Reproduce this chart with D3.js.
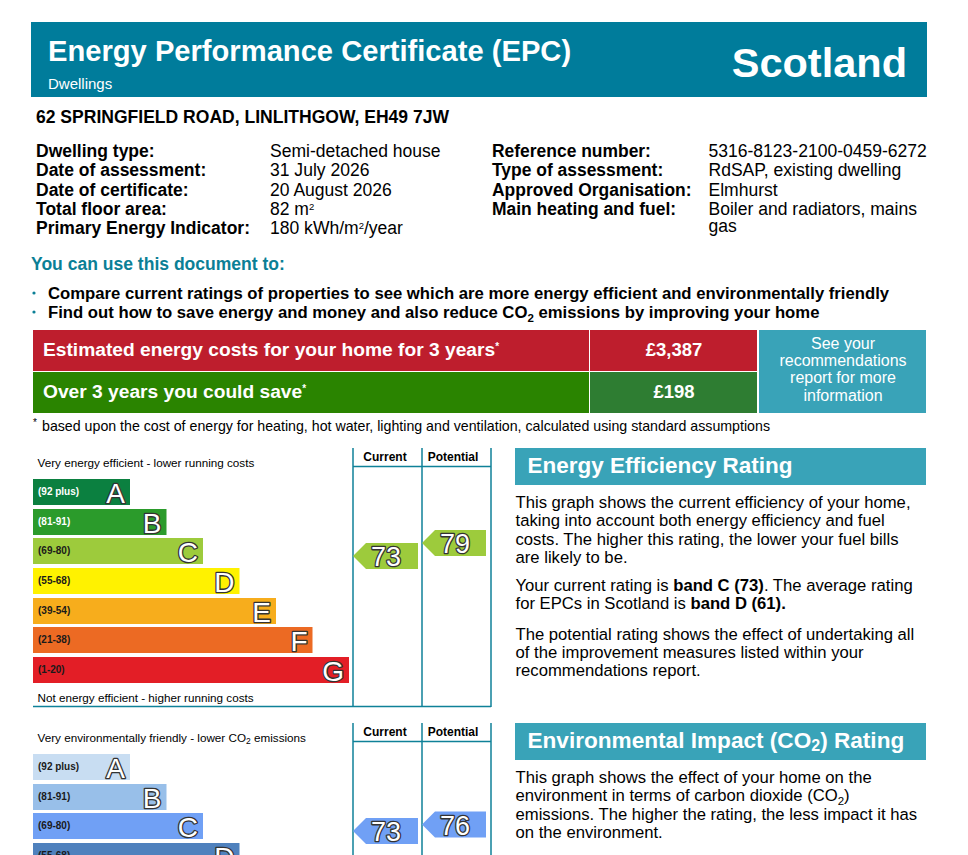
<!DOCTYPE html>
<html><head><meta charset="utf-8">
<script src="https://cdn.jsdelivr.net/npm/d3@7"></script>
<style>
html,body{margin:0;padding:0;background:#fff;overflow:hidden}
svg{display:block}
text{font-family:"Liberation Sans",Arial,sans-serif;fill:#000}
</style></head><body><div id="c"></div>
<script>
const address = "62 SPRINGFIELD ROAD, LINLITHGOW, EH49 7JW";
const detailLabelsLeft = ["Dwelling type:","Date of assessment:","Date of certificate:","Total floor area:","Primary Energy Indicator:"];
const detailValuesLeft = ["Semi-detached house","31 July 2026","20 August 2026"];
const detailLabelsRight = ["Reference number:","Type of assessment:","Approved Organisation:","Main heating and fuel:"];
const detailValuesRight = ["5316-8123-2100-0459-6272","RdSAP, existing dwelling","Elmhurst","Boiler and radiators, mains"];
const bandLetters = ["A","B","C","D","E","F","G"];
const bandRanges = ["(92 plus)","(81-91)","(69-80)","(55-68)","(39-54)","(21-38)","(1-20)"];
const energyColors = ["#0b8040","#2b9b2b","#9dcb3c","#fff200","#f7ad1c","#ec6a23","#e31e26"];
const energyLabelColors = ["#fff","#fff","#1a1a1a","#1a1a1a","#1a1a1a","#1a1a1a","#1a1a1a"];
const co2Colors = ["#c8ddf2","#98bfe9","#70a0f5","#4f81bd"];
const energyCurrent = 73, energyPotential = 79;
const co2Current = 73, co2Potential = 76;
const costValue = "£3,387", saveValue = "£198";

const svg = d3.select("#c").append("svg").attr("width",968).attr("height",855);
const T = (x,y,s,size,opts={}) => svg.append("text").attr("x",x).attr("y",y).attr("font-size",size)
  .attr("font-weight",opts.b?"bold":null).attr("text-anchor",opts.a||null).style("fill",opts.c||"#000").text(s);
const R = (x,y,w,h,c) => svg.append("rect").attr("x",x).attr("y",y).attr("width",w).attr("height",h).attr("fill",c);
const SUP = (el,s,size,up,after) => { el.append("tspan").attr("font-size",size).attr("dy",-up).text(s);
  if(after) el.append("tspan").attr("dy",up).text(after); };

const TEAL="#007c9b", MID="#39a3b8", LINE="#0f8198";
// header
R(31,22,896,75,TEAL);
T(48,61,"Energy Performance Certificate (EPC)",29.15,{b:1,c:"#fff"});
T(48,89,"Dwellings",15,{c:"#fff"});
T(907,77,"Scotland",41.5,{b:1,c:"#fff",a:"end"});
T(36,123,address,17.55,{b:1});
// details
const rowY = d3.scalePoint().domain(d3.range(5)).range([157,234]);
detailLabelsLeft.forEach((d,i)=>T(36,rowY(i),d,17.5,{b:1}));
detailValuesLeft.forEach((d,i)=>T(270,rowY(i),d,17.55));
SUP(T(270,rowY(3),"82 m",17.55),"2",9.5,5);
SUP(T(270,rowY(4),"180 kWh/m",17.55),"2",9.5,5,"/year");
detailLabelsRight.forEach((d,i)=>T(492,rowY(i),d,17.45,{b:1}));
detailValuesRight.forEach((d,i)=>T(708.5,rowY(i),d,17.55));
T(708.5,232,"gas",17.55);
T(31,270,"You can use this document to:",17.55,{b:1,c:"#0b7f96"});
[293,312].forEach(y=>svg.append("circle").attr("cx",34).attr("cy",y).attr("r",1.6).attr("fill","#0b7f96"));
T(48,299,"Compare current ratings of properties to see which are more energy efficient and environmentally friendly",16.7,{b:1});
const t=T(48,317.5,"Find out how to save energy and money and also reduce CO",16.7,{b:1});
t.append("tspan").attr("font-size",11.5).attr("dy",4).text("2");
t.append("tspan").attr("dy",-4).text(" emissions by improving your home");
// cost boxes
R(33,330,556,41,"#be1e2d");R(590,330,167,41,"#be1e2d");
R(33,372,556,41,"#2a8400");R(590,372,167,41,"#2e7d32");
R(759,330,167,83,MID);
const c1=T(43,356,"Estimated energy costs for your home for 3 years",19.2,{b:1,c:"#fff"});
c1.append("tspan").attr("font-size",10).attr("dy",-6).text("*");
const c2=T(43,398,"Over 3 years you could save",19.2,{b:1,c:"#fff"});
c2.append("tspan").attr("font-size",10).attr("dy",-6).text("*");
T(674,356,costValue,18.5,{b:1,c:"#fff",a:"middle"});
T(674,398,saveValue,18.5,{b:1,c:"#fff",a:"middle"});
["See your","recommendations","report for more","information"].forEach((s,i)=>T(843,349+i*17.2,s,16,{c:"#fff",a:"middle"}));
T(33,426,"*",10);
T(42,431,"based upon the cost of energy for heating, hot water, lighting and ventilation, calculated using standard assumptions",14.2);

// rating charts
const bandX = d3.scaleLinear().domain([0,6]).range([130,349]);
const bandY = d3.scaleLinear().domain([0,6]).range([479,657]);
const ratingY = d3.scaleLinear().domain([79,73]).range([543,556]);

function outlined(g,x,y,s,size,anchor){
  g.append("text").attr("x",x).attr("y",y).attr("text-anchor",anchor).attr("font-size",size)
    .attr("paint-order","stroke").style("fill","#fff").style("stroke","#333").style("stroke-width","2.6px").style("stroke-linejoin","round").text(s);
}
function chart(dy, colors, labelColors, topLabel, bottomLabel, current, potential, arrowColor){
  const g = svg.append("g").attr("transform",`translate(0,${dy})`);
  const n = colors.length;
  const bands = g.selectAll("g.b").data(d3.range(n)).join("g");
  bands.append("rect").attr("x",33).attr("y",i=>Math.round(bandY(i))).attr("width",i=>bandX(i)-33).attr("height",26).attr("fill",i=>colors[i]);
  bands.append("text").attr("x",38).attr("y",i=>Math.round(bandY(i))+16).attr("font-size",10).attr("font-weight","bold").style("fill",i=>labelColors[i]).text(i=>bandRanges[i]);
  bands.each(function(i){ outlined(d3.select(this),bandX(i)-5,Math.round(bandY(i))+23.5,bandLetters[i],28,"end"); });
  g.append("g").html(topLabel);
  if(bottomLabel) g.append("text").attr("x",37.5).attr("y",702).attr("font-size",11.7).text(bottomLabel);
  const lineBottom = bottomLabel ? 707 : 855-dy+5;
  [353,422,491].forEach(x=>g.append("line").attr("x1",x).attr("x2",x).attr("y1",448).attr("y2",lineBottom).attr("stroke",LINE).attr("stroke-width",1.5));
  g.append("line").attr("x1",353).attr("x2",491).attr("y1",466.5).attr("y2",466.5).attr("stroke",LINE).attr("stroke-width",1.5);
  if(bottomLabel) g.append("line").attr("x1",33).attr("x2",491).attr("y1",706.5).attr("y2",706.5).attr("stroke",LINE).attr("stroke-width",1.5);
  g.append("text").attr("x",385).attr("y",461).attr("text-anchor","middle").attr("font-size",12).attr("font-weight","bold").text("Current");
  g.append("text").attr("x",453).attr("y",461).attr("text-anchor","middle").attr("font-size",12).attr("font-weight","bold").text("Potential");
  [[353,65,current],[422,64,potential]].forEach(([x,w,v])=>{
    const cy=ratingY(v);
    g.append("path").attr("d",d3.line()([[x,cy],[x+13,cy-13],[x+w,cy-13],[x+w,cy+13],[x+13,cy+13]])+"Z").attr("fill",arrowColor);
    outlined(g,x+33,cy+10,String(v),27,"middle");
  });
}
chart(0,energyColors,energyLabelColors,
  '<text x="37.5" y="467" font-size="11.7">Very energy efficient - lower running costs</text>',
  "Not energy efficient - higher running costs",energyCurrent,energyPotential,"#9dcb3c");
chart(275,co2Colors,co2Colors.map(()=>"#1a1a1a"),
  '<text x="37.5" y="467" font-size="11.7">Very environmentally friendly - lower CO<tspan font-size="8.5" dy="2">2</tspan><tspan dy="-2"> emissions</tspan></text>',
  null,co2Current,co2Potential,"#70a0f5");

// right text
R(515,448,411,37,MID);
T(527.5,473,"Energy Efficiency Rating",22.5,{b:1,c:"#fff"});
R(515,723,411,37,MID);
const h2=T(527.5,748,"Environmental Impact (CO",22.6,{b:1,c:"#fff"});
h2.append("tspan").attr("font-size",16).attr("dy",3).text("2");
h2.append("tspan").attr("dy",-3).text(") Rating");
const PS=16.67;
const PX=515.5;
const para=(y,lh,lines)=>lines.forEach((s,i)=>T(PX,y+i*lh,s,PS));
para(508,18.3,["This graph shows the current efficiency of your home,","taking into account both energy efficiency and fuel","costs. The higher this rating, the lower your fuel bills","are likely to be."]);
const p1=T(PX,591,"Your current rating is ",PS);
p1.append("tspan").attr("font-weight","bold").text("band C (73)");
p1.append("tspan").text(". The average rating");
const p2=T(PX,609,"for EPCs in Scotland is ",PS);
p2.append("tspan").attr("font-weight","bold").text("band D (61).");
para(640,18,["The potential rating shows the effect of undertaking all","of the improvement measures listed within your","recommendations report."]);
T(PX,783,"This graph shows the effect of your home on the",PS);
const p3=T(PX,801,"environment in terms of carbon dioxide (CO",PS);
p3.append("tspan").attr("font-size",11.5).attr("dy",4).text("2");
p3.append("tspan").attr("dy",-4).text(")");
T(PX,820,"emissions. The higher the rating, the less impact it has",PS);
T(PX,838,"on the environment.",PS);
</script></body></html>
